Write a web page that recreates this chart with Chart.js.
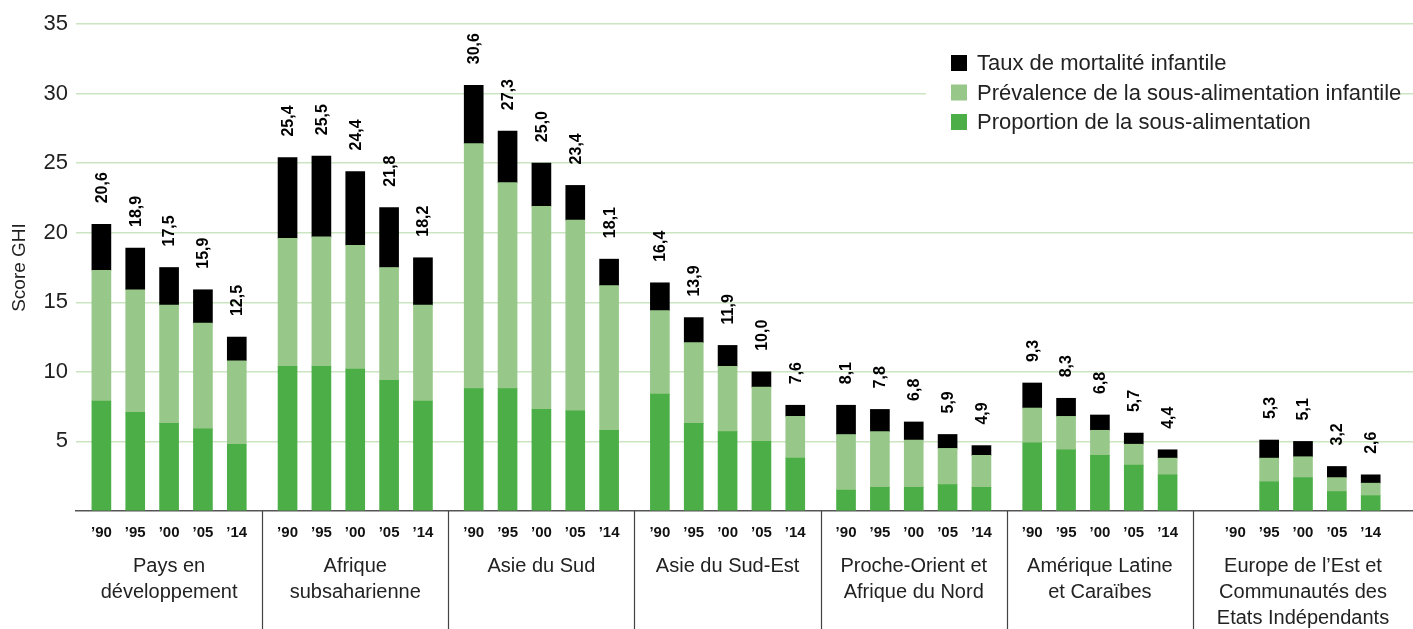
<!DOCTYPE html>
<html>
<head>
<meta charset="utf-8">
<script src="https://cdn.jsdelivr.net/npm/chart.js@4.4.1/dist/chart.umd.min.js"></script>
<style>
body{margin:0;background:#fff;}
#wrap{width:1413px;height:629px;}
</style>
</head>
<body>
<div id="wrap"><canvas id="ghi"></canvas></div>
<script>
// Régions (une ligne par élément) et années
const regions = [
    ['Pays en','développement'],
    ['Afrique','subsaharienne'],
    ['Asie du Sud'],
    ['Asie du Sud-Est'],
    ['Proche-Orient et','Afrique du Nord'],
    ['Amérique Latine','et Caraïbes'],
    ['Europe de l’Est et','Communautés des','Etats Indépendants']
];
const years = ['’90','’95','’00','’05','’14'];

// Score GHI affiché au-dessus de chaque barre
const scores = [
    20.6,18.9,17.5,15.9,12.5,
    25.4,25.5,24.4,21.8,18.2,
    30.6,27.3,25.0,23.4,18.1,
    16.4,13.9,11.9,10.0,7.6,
    8.1,7.8,6.8,5.9,4.9,
    9.3,8.3,6.8,5.7,4.4,
    null,5.3,5.1,3.2,2.6
];

// Composantes
const proportion = [
    7.9,7.1,6.3,5.9,4.8,
    10.4,10.4,10.2,9.4,7.9,
    8.8,8.8,7.3,7.2,5.8,
    8.4,6.3,5.7,5.0,3.8,
    1.5,1.7,1.7,1.9,1.7,
    4.9,4.4,4.0,3.3,2.6,
    null,2.1,2.4,1.4,1.1
];
const prevalence = [
    9.4,8.8,8.5,7.6,6.0,
    9.2,9.3,8.9,8.1,6.9,
    17.6,14.8,14.6,13.7,10.4,
    6.0,5.8,4.7,3.9,3.0,
    4.0,4.0,3.4,2.6,2.3,
    2.5,2.4,1.8,1.5,1.2,
    null,1.7,1.5,1.0,0.9
];
const mortality = [
    3.3,3.0,2.7,2.4,1.7,
    5.8,5.8,5.3,4.3,3.4,
    4.2,3.7,3.1,2.5,1.9,
    2.0,1.8,1.5,1.1,0.8,
    2.1,1.6,1.3,1.0,0.7,
    1.8,1.3,1.1,0.8,0.6,
    null,1.3,1.1,0.8,0.6
];

const seriesNames = ['Taux de mortalité infantile','Prévalence de la sous-alimentation infantile','Proportion de la sous-alimentation'];
const colors = ['#000000','#97c889','#4cae47'];
const FONT = 'Liberation Sans, Arial, sans-serif';

// -------- Emplacements sur l'axe x (barres + espaces) --------
const slotLabels = [];
const slotBar = [];     // index dans les tableaux de données, -1 = espace
const groupSlots = [];  // [premier, dernier] par région
regions.forEach((r,g)=>{
    const last = g === regions.length-1;
    const pad = last ? 2 : 1;
    const start = slotLabels.length;
    const gap = ()=>{ slotLabels.push(''); slotBar.push(-1); };
    for(let k=0;k<pad;k++) gap();
    years.forEach((y,i)=>{
        slotLabels.push(y); slotBar.push(g*years.length+i);
        if(i<years.length-1) gap();
    });
    for(let k=0;k<pad;k++) gap();
    groupSlots.push([start, slotLabels.length-1]);
});
const pick = arr => slotBar.map(i=> i<0 ? null : arr[i]);

// -------- Dessins supplémentaires --------
const decor = {
    id:'decor',
    afterDatasetsDraw(chart){
        const ctx = chart.ctx;
        const top = chart.getDatasetMeta(2).data;
        ctx.save();
        ctx.fillStyle = '#000';
        ctx.font = 'bold 16px ' + FONT;
        ctx.textAlign = 'left';
        ctx.textBaseline = 'middle';
        slotBar.forEach((bi,s)=>{
            if(bi<0 || scores[bi]==null) return;
            const bar = top[s];
            ctx.save();
            ctx.translate(bar.x, bar.y - 21);
            ctx.rotate(-Math.PI/2);
            ctx.fillText(scores[bi].toFixed(1).replace('.',','), 0, 1);
            ctx.restore();
        });
        ctx.restore();
    },
    afterDraw(chart){
        const ctx = chart.ctx, x = chart.scales.x, area = chart.chartArea;
        const half = (x.getPixelForValue(1) - x.getPixelForValue(0))/2;
        ctx.save();
        // séparateurs entre régions
        ctx.strokeStyle = '#444';
        ctx.lineWidth = 1.2;
        groupSlots.forEach(([a,b],g)=>{
            if(g===groupSlots.length-1) return;
            const px = Math.round(x.getPixelForValue(b) + half) + 0.5;
            ctx.beginPath();
            ctx.moveTo(px, area.bottom);
            ctx.lineTo(px, chart.height);
            ctx.stroke();
        });
        // années
        ctx.fillStyle = '#111';
        ctx.font = 'bold 15px ' + FONT;
        ctx.textAlign = 'center';
        ctx.textBaseline = 'middle';
        slotLabels.forEach((lab,s)=>{
            if(lab) ctx.fillText(lab, x.getPixelForValue(s), 533);
        });
        // noms des régions
        ctx.fillStyle = '#222';
        ctx.font = '20px ' + FONT;
        groupSlots.forEach(([a,b],g)=>{
            const cx = (x.getPixelForValue(a) + x.getPixelForValue(b))/2;
            regions[g].forEach((line,l)=> ctx.fillText(line, cx, 566 + l*26));
        });
        // légende
        ctx.fillStyle = '#fff';
        ctx.fillRect(926, 46, 470, 92);
        ctx.font = '22px ' + FONT;
        ctx.textAlign = 'left';
        seriesNames.forEach((name,i)=>{
            const cy = 63 + i*29.5;
            ctx.fillStyle = colors[i];
            ctx.fillRect(951, cy-8, 16, 16);
            ctx.fillStyle = '#222';
            ctx.fillText(name, 977, cy+1);
        });
        ctx.restore();
    }
};

new Chart(document.getElementById('ghi'),{
    type:'bar',
    data:{
        labels: slotLabels,
        datasets:[
            { label:seriesNames[2], data:pick(proportion), backgroundColor:colors[2], stack:'s' },
            { label:seriesNames[1], data:pick(prevalence), backgroundColor:colors[1], stack:'s' },
            { label:seriesNames[0], data:pick(mortality),  backgroundColor:colors[0], stack:'s' }
        ]
    },
    options:{
        responsive:true,
        maintainAspectRatio:false,
        animation:false,
        layout:{ padding:{ top:24, right:0, left:0, bottom:0 } },
        datasets:{ bar:{ barThickness:19, borderWidth:0 } },
        plugins:{ legend:{ display:false }, tooltip:{ enabled:false } },
        scales:{
            x:{
                stacked:true,
                grid:{ display:false, drawTicks:false },
                border:{ display:true, color:'#555', width:1.5 },
                ticks:{ display:false },
                afterFit(scale){ scale.height = 118; }
            },
            y:{
                stacked:true,
                min:0, max:35,
                ticks:{ stepSize:5, padding:8, color:'#222', font:{ family:FONT, size:22 },
                        callback:v=> v===0 ? '' : v },
                grid:{ drawTicks:false, lineWidth:1.5,
                       color:c=> c.tick && c.tick.value===0 ? 'rgba(0,0,0,0)' : '#cbe5c2' },
                border:{ display:false },
                title:{ display:true, text:'Score GHI', color:'#222', font:{ family:FONT, size:19 }, padding:{ top:8, bottom:0 } },
                afterFit(scale){ scale.width = 76; }
            }
        }
    },
    plugins:[decor]
});
</script>
</body>
</html>
